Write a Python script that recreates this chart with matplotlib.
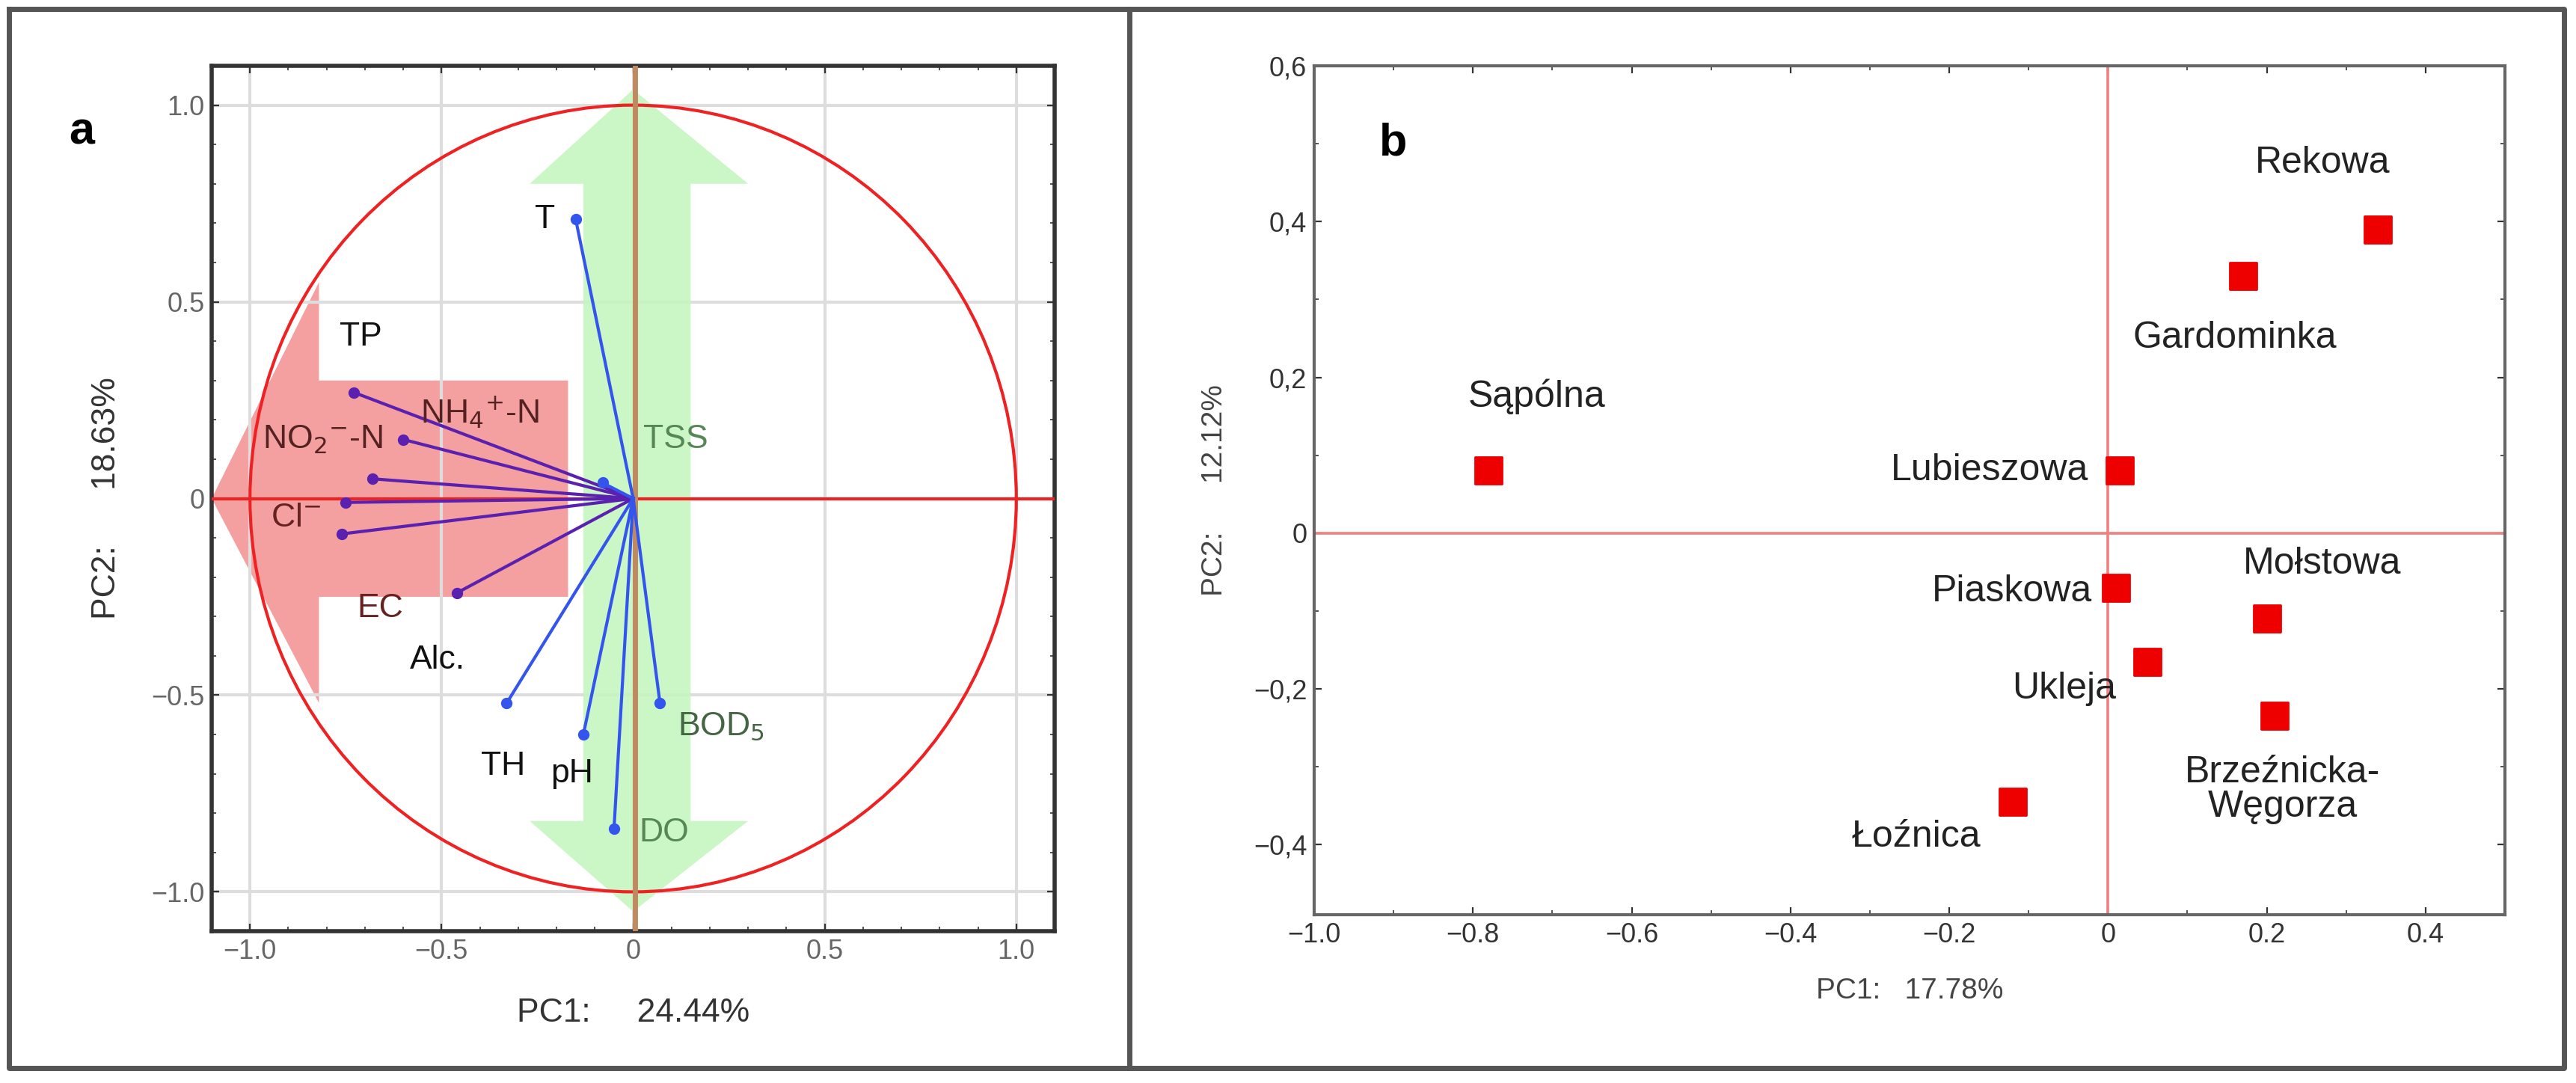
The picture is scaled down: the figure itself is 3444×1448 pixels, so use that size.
import numpy as np
import matplotlib
matplotlib.use('Agg')
import matplotlib.pyplot as plt
from matplotlib.patches import Polygon, Circle
from matplotlib.lines import Line2D
from matplotlib.ticker import MultipleLocator

plt.rcParams['font.family'] = 'Liberation Sans'

# panel a: loadings
var_names = ['T', 'TP', 'NH$_4$$^{+}$-N', 'NO$_2$$^{-}$-N', 'Cl$^{-}$', 'EC', 'Alc.',
             'TH', 'pH', 'DO', 'BOD$_5$', 'TSS']
load_pc1 = [-0.15, -0.73, -0.60, -0.68, -0.75, -0.76, -0.46, -0.33, -0.13, -0.05, 0.07, -0.08]
load_pc2 = [0.71, 0.27, 0.15, 0.05, -0.01, -0.09, -0.24, -0.52, -0.60, -0.84, -0.52, 0.04]
purple_vars = {'TP', 'NH$_4$$^{+}$-N', 'NO$_2$$^{-}$-N', 'Cl$^{-}$', 'EC', 'Alc.'}
# label offsets, label placement only
lab_off = {'T': (-0.08, 0.0), 'TP': (0.02, 0.14), 'NH$_4$$^{+}$-N': (0.2, 0.07),
           'NO$_2$$^{-}$-N': (-0.13, 0.1), 'Cl$^{-}$': (-0.13, -0.04), 'EC': (0.1, -0.19),
           'Alc.': (-0.05, -0.17), 'TH': (-0.01, -0.16), 'pH': (-0.03, -0.1),
           'DO': (0.13, -0.01), 'BOD$_5$': (0.16, -0.06), 'TSS': (0.19, 0.11)}
lab_col = {'TSS': '#558855', 'DO': '#558855', 'BOD$_5$': '#446644', 'EC': '#662222',
           'Cl$^{-}$': '#662222', 'NO$_2$$^{-}$-N': '#552222', 'NH$_4$$^{+}$-N': '#552222'}

# panel b: scores
sites = ['Rekowa', 'Gardominka', 'Sąpólna', 'Lubieszowa', 'Piaskowa', 'Mołstowa',
         'Ukleja', 'Brzeźnicka-\nWęgorza', 'Łoźnica']
score_pc1 = [0.34, 0.17, -0.78, 0.015, 0.01, 0.20, 0.05, 0.21, -0.12]
score_pc2 = [0.39, 0.33, 0.08, 0.08, -0.07, -0.11, -0.165, -0.235, -0.345]
site_lab = {'Rekowa': (0.27, 0.475, 'center'), 'Gardominka': (0.16, 0.25, 'center'),
            'Sąpólna': (-0.72, 0.175, 'center'), 'Lubieszowa': (-0.025, 0.08, 'right'),
            'Piaskowa': (-0.02, -0.075, 'right'), 'Mołstowa': (0.27, -0.04, 'center'),
            'Ukleja': (0.01, -0.2, 'right'), 'Brzeźnicka-\nWęgorza': (0.22, -0.33, 'center'),
            'Łoźnica': (-0.16, -0.39, 'right')}

fig = plt.figure(figsize=(17.22, 7.24), dpi=200)
W, H = 3444, 1448

def frac(x0, y0, x1, y1):
    return [x0 / W, 1 - y1 / H, (x1 - x0) / W, (y1 - y0) / H]

# outer frames
for xs, ys in [([12, 1510, 1510, 12, 12], [12, 12, 1428, 1428, 12]),
               ([1510, 3428, 3428, 1510], [12, 12, 1428, 1428])]:
    fig.add_artist(Line2D(np.array(xs) / W, 1 - np.array(ys) / H, color='#555555', lw=2.5))

ticks_kw = dict(direction='in', top=True, right=True, which='both', labelsize=13, colors='#333333')

# ---- panel a ----
ax = fig.add_axes(frac(283, 88, 1410, 1245))
ax.set_xlim(-1.1, 1.1)
ax.set_ylim(-1.1, 1.1)
ax.set_xticks([-1, -0.5, 0, 0.5, 1])
ax.set_yticks([-1, -0.5, 0, 0.5, 1])
ax.set_xticklabels(['−1.0', '−0.5', '0', '0.5', '1.0'])
ax.set_yticklabels(['−1.0', '−0.5', '0', '0.5', '1.0'])
ax.xaxis.set_minor_locator(MultipleLocator(0.1))
ax.yaxis.set_minor_locator(MultipleLocator(0.1))
ax.tick_params(**ticks_kw)
ax.tick_params(axis='both', labelcolor='#666666')
ax.grid(True, color='#dddddd', lw=1.5)
for s in ax.spines.values():
    s.set_linewidth(2)
    s.set_color('#333333')

red_arrow = [(-1.1, 0), (-0.82, 0.55), (-0.82, 0.3), (-0.17, 0.3), (-0.17, -0.25),
             (-0.82, -0.25), (-0.82, -0.52)]
ax.add_patch(Polygon(red_arrow, closed=True, fc='#f4a0a0', ec='none', zorder=1))
green_arrow = [(0, 1.04), (0.3, 0.8), (0.15, 0.8), (0.15, -0.82), (0.3, -0.82), (0, -1.05),
               (-0.27, -0.82), (-0.13, -0.82), (-0.13, 0.8), (-0.27, 0.8)]
ax.add_patch(Polygon(green_arrow, closed=True, fc='#c6f5c0', ec='none', alpha=0.9, zorder=2))
ax.add_patch(Circle((0, 0), 1.0, fill=False, ec='#ee2222', lw=1.5, zorder=3))
ax.axhline(0, color='#ee2222', lw=1.5, zorder=3)
ax.axvline(0.005, color='#c08a60', lw=2.5, zorder=3)

for name, x, y in zip(var_names, load_pc1, load_pc2):
    c = '#5a20b0' if name in purple_vars else '#3355ee'
    ax.plot([0, x], [0, y], color=c, lw=1.5, zorder=4)
    ax.plot(x, y, 'o', color=c, ms=4.5, zorder=5)
    dx, dy = lab_off[name]
    ax.text(x + dx, y + dy, name, fontsize=16, ha='center', va='center',
            color=lab_col.get(name, '#111111'), zorder=6)

ax.text(-1.44, 0.93, 'a', fontsize=22, fontweight='bold', ha='center', va='center')
ax.set_xlabel('PC1:     24.44%', fontsize=16, color='#333333', labelpad=16)
ax.set_ylabel('PC2:      18.63%', fontsize=16, color='#333333', labelpad=14)

# ---- panel b ----
bx = fig.add_axes(frac(1757, 88, 3349, 1223))
bx.set_xlim(-1.0, 0.5)
bx.set_ylim(-0.49, 0.6)
bx.set_xticks([-1, -0.8, -0.6, -0.4, -0.2, 0, 0.2, 0.4])
bx.set_xticklabels(['−1.0', '−0.8', '−0.6', '−0.4', '−0.2', '0', '0.2', '0.4'])
bx.set_yticks([-0.4, -0.2, 0, 0.2, 0.4, 0.6])
bx.set_yticklabels(['−0,4', '−0,2', '0', '0,2', '0,4', '0,6'])
bx.xaxis.set_minor_locator(MultipleLocator(0.1))
bx.yaxis.set_minor_locator(MultipleLocator(0.1))
bx.tick_params(**ticks_kw)
for s in bx.spines.values():
    s.set_linewidth(1.5)
    s.set_color('#666666')
bx.axhline(0, color='#f08080', lw=1.3)
bx.axvline(0, color='#f08080', lw=1.3)
bx.scatter(score_pc1, score_pc2, marker='s', s=170, color='#ee0000', zorder=4)
for name in sites:
    lx, ly, ha = site_lab[name]
    bx.text(lx, ly, name, fontsize=18, ha=ha, va='center', color='#222222',
            linespacing=1.0)
bx.text(-0.9, 0.5, 'b', fontsize=22, fontweight='bold', ha='center', va='center')
bx.set_xlabel('PC1:   17.78%', fontsize=14, color='#444444', labelpad=14)
bx.set_ylabel('PC2:      12.12%', fontsize=14, color='#444444', labelpad=12)

fig.savefig('out.png', dpi=200, facecolor='white')
